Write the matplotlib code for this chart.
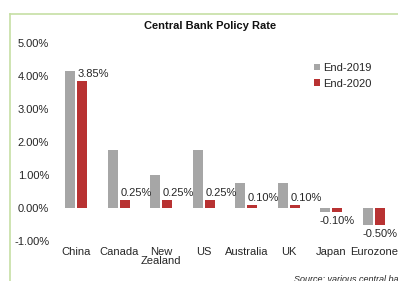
import matplotlib
matplotlib.use("Agg")
import matplotlib.pyplot as plt
import numpy as np
from matplotlib.lines import Line2D

plt.rcParams['font.family'] = ['Liberation Sans', 'DejaVu Sans']

categories = ["China", "Canada", "New\nZealand", "US", "Australia", "UK", "Japan", "Eurozone"]
end_2019 = [4.15, 1.75, 1.00, 1.75, 0.75, 0.75, -0.10, -0.50]
end_2020 = [3.85, 0.25, 0.25, 0.25, 0.10, 0.10, -0.10, -0.50]
labels_2020 = ["3.85%", "0.25%", "0.25%", "0.25%", "0.10%", "0.10%", "-0.10%", "-0.50%"]
yticks = [-1, 0, 1, 2, 3, 4, 5]

W, H = 398, 281
fig = plt.figure(figsize=(W/100, H/100), dpi=100)
fig.patch.set_facecolor('white')

x0, x1 = 54.7, 395.3
ytop, ybot = 43, 241.3
ax = fig.add_axes([x0/W, 1-ybot/H, (x1-x0)/W, (ybot-ytop)/H])
ax.set_facecolor('none')

gray = '#a6a6a6'
red = '#b83232'
fs = 8
x = np.arange(len(categories))
bw = 0.235
off = 0.14
ax.bar(x-off, end_2019, bw, color=gray, label='End-2019')
ax.bar(x+off, end_2020, bw, color=red, label='End-2020')

for xi, v, t in zip(x, end_2020, labels_2020):
    if v >= 0:
        ax.text(xi+off-bw/2+0.02, v+0.07, t, ha='left', va='bottom', fontsize=fs, color='#262626')
    else:
        ax.text(xi+off, v-0.12, t, ha='center', va='top', fontsize=fs, color='#262626')

ax.set_xlim(-0.5, len(categories)-0.5)
ax.set_ylim(-1, 5)
ax.set_yticks(yticks)
ax.set_yticklabels([f"{v:.2f}%" for v in yticks], fontsize=fs, color='#262626')
ax.set_xticks(x)
ax.set_xticklabels(categories, fontsize=fs, color='#262626', linespacing=0.95)
ax.tick_params(axis='both', length=0)
ax.tick_params(axis='y', pad=4)
ax.tick_params(axis='x', pad=4)
for s in ax.spines.values():
    s.set_visible(False)

fig.text(210/W, 1-26/H, "Central Bank Policy Rate", ha='center', va='center',
         fontsize=8, fontweight='bold', color='#111111')

leg = ax.legend(loc='upper left', bbox_to_anchor=((314-x0)/(x1-x0), 1-(63-ytop)/(ybot-ytop)),
                frameon=False, fontsize=fs, handlelength=0.5, handleheight=0.5,
                handletextpad=0.3, labelspacing=0.5, borderpad=0, borderaxespad=0)
for t in leg.get_texts():
    t.set_color('#262626')

fig.text(294/W, 1-279/H, "Source: various central banks", ha='left', va='center',
         fontsize=6.5, style='italic', color='#262626')

bc = '#c6dfa4'
fig.add_artist(Line2D([9.5/W, 1.0], [1-13.5/H, 1-13.5/H], color=bc, lw=1.2))
fig.add_artist(Line2D([9.5/W, 9.5/W], [0, 1-13.5/H], color=bc, lw=1.2))

fig.savefig('out.png', dpi=100, facecolor='white')
